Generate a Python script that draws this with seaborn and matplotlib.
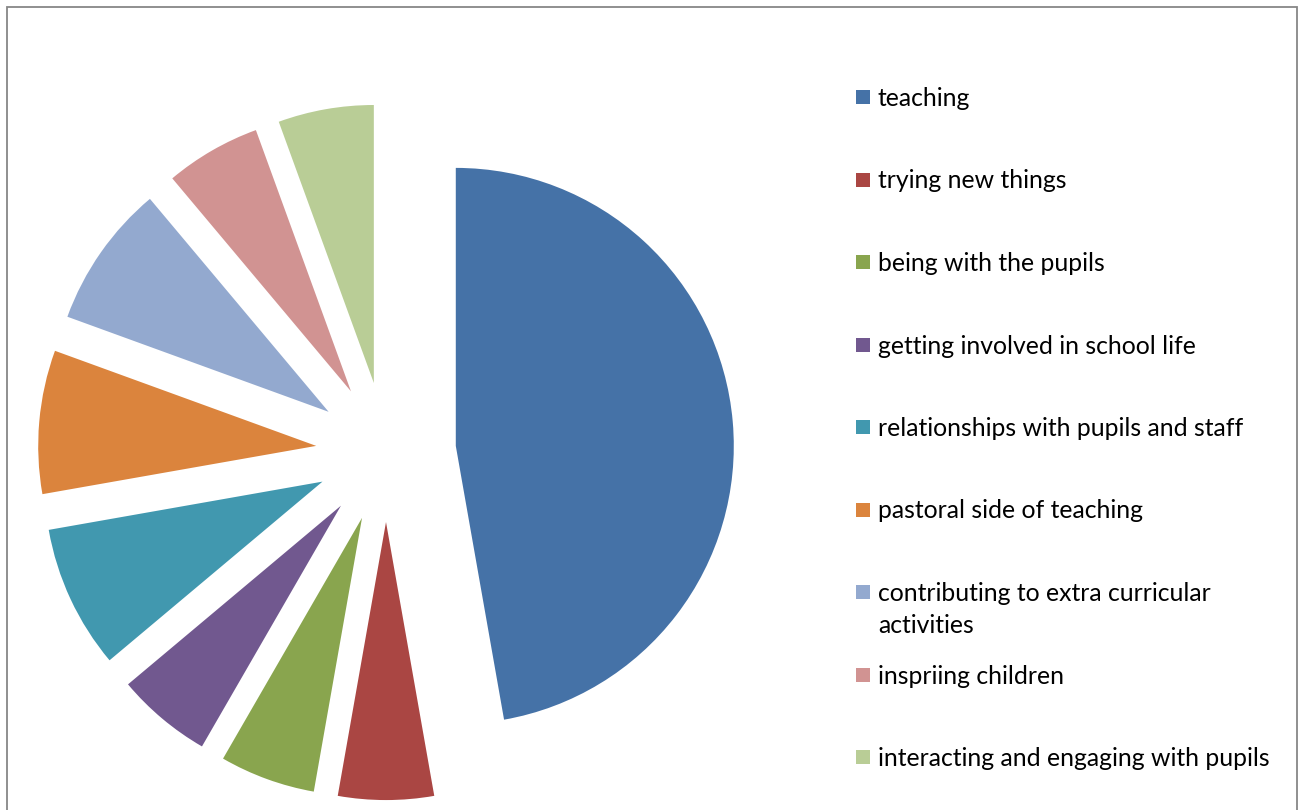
import matplotlib
matplotlib.use("Agg")
import matplotlib.pyplot as plt
import seaborn as sns
from matplotlib.patches import Rectangle

# responses per category (36 in total)
categories = [
    "teaching",
    "trying new things",
    "being with the pupils",
    "getting involved in school life",
    "relationships with pupils and staff",
    "pastoral side of teaching",
    "contributing to extra curricular\nactivities",
    "inspriing children",
    "interacting and engaging with pupils",
]
counts = [17, 2, 2, 2, 3, 3, 3, 2, 2]
colors = ["#4572A7", "#AA4643", "#89A54E", "#71588F", "#4198AF",
          "#DB843D", "#93A9CF", "#D19392", "#B9CD96"]

sns.set_theme(style="white")
plt.rcParams["font.family"] = ["Lato", "DejaVu Sans"]

W, H = 1303, 810
fig = plt.figure(figsize=(W / 100, H / 100), dpi=100)
ax = fig.add_axes([0, 0, 1, 1])

ax.pie(
    counts,
    colors=colors,
    startangle=90,
    counterclock=False,
    explode=[0.252] * len(counts),
    wedgeprops={"linewidth": 0},
)

# map data units to pixels: radius 1 -> 278 px, centre at (386, 452) from top-left
r_px = 278
cx, cy = 386, 452
ax.set_aspect("auto")
ax.set_xlim(-cx / r_px, (W - cx) / r_px)
ax.set_ylim(-(H - cy) / r_px, cy / r_px)
ax.axis("off")

# legend, drawn by hand to keep the Excel-style even spacing
y0, step = 97, 82.5
for i, (lab, col) in enumerate(zip(categories, colors)):
    y = y0 + i * step
    fig.add_artist(Rectangle(((856) / W, 1 - (y + 7) / H), 14 / W, 14 / H,
                             transform=fig.transFigure, facecolor=col,
                             edgecolor="none"))
    fig.text(878 / W, 1 - (y - 10) / H, lab, fontsize=17.8, color="#000000",
             va="top", ha="left", linespacing=1.48)

# chart area frame
fig.add_artist(Rectangle((6.5 / W, -0.05), (1297 - 6.5) / W, 1.05 - 7 / H,
                         transform=fig.transFigure, facecolor="none",
                         edgecolor="#878787", linewidth=1.3))

fig.savefig("out.png", dpi=100)
